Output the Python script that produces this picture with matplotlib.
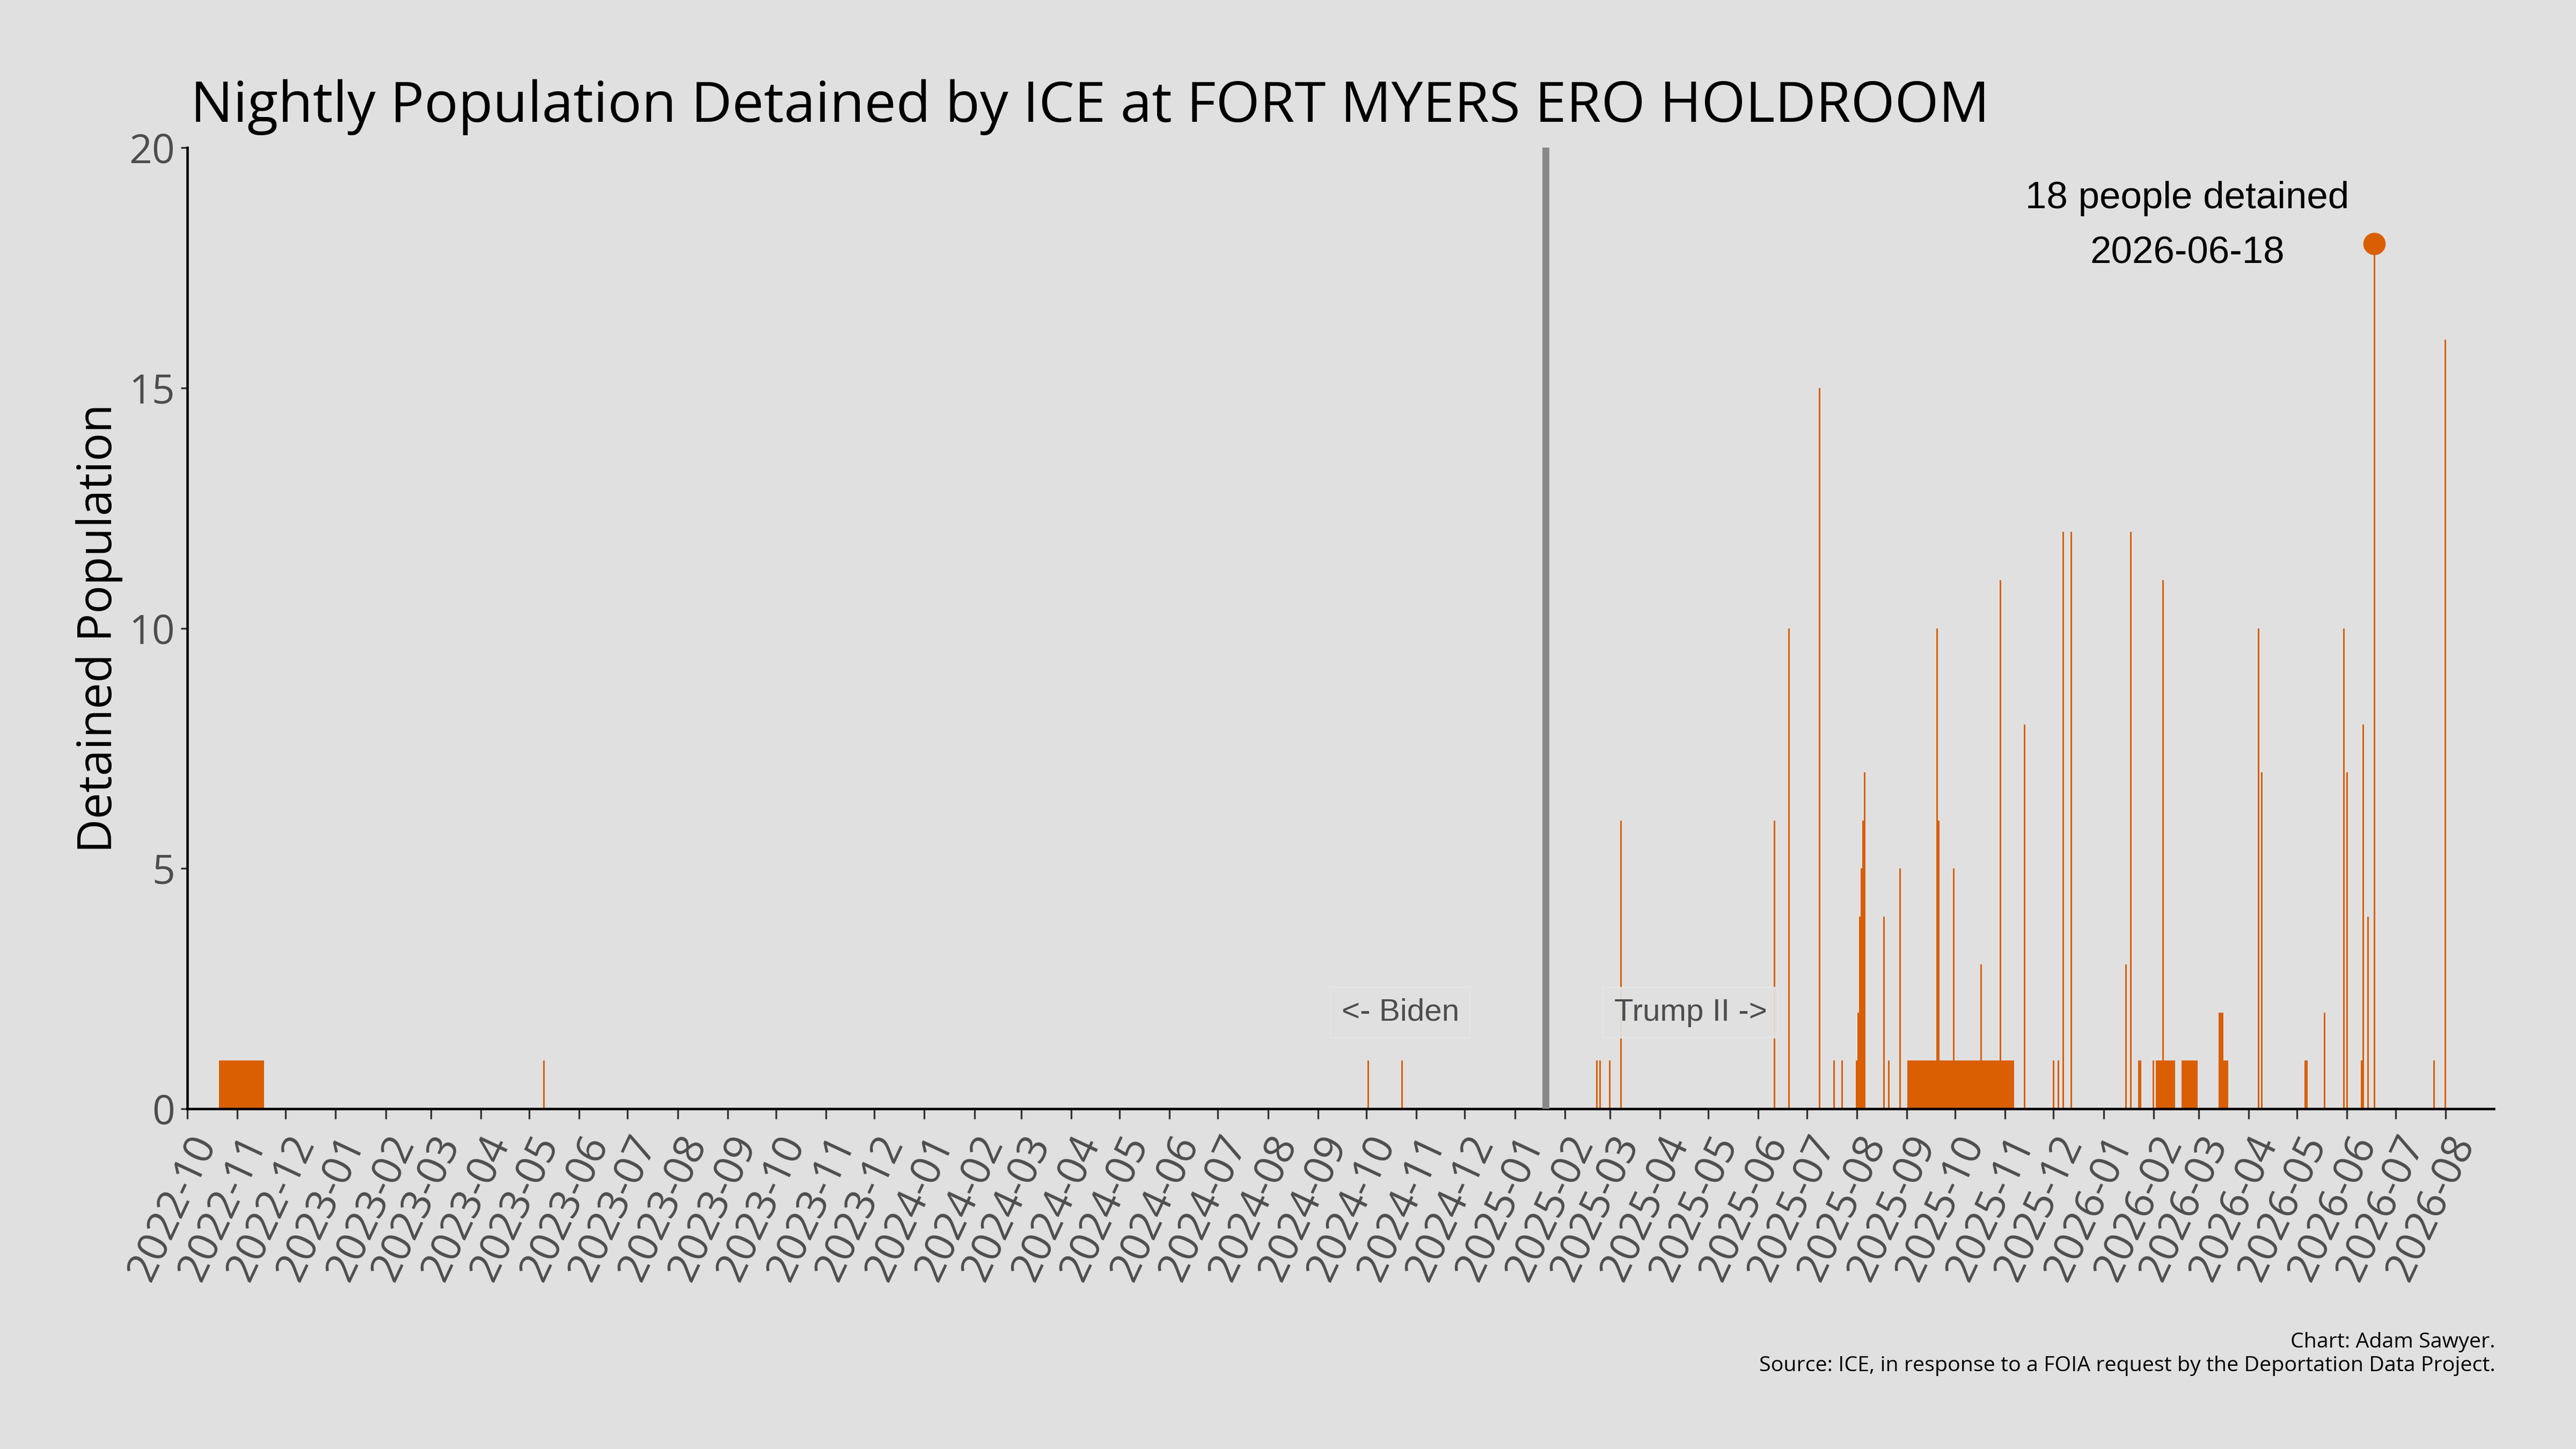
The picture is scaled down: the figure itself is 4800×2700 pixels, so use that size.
import matplotlib
matplotlib.use("Agg")
import matplotlib.pyplot as plt
import matplotlib.dates as mdates
import pandas as pd

# ---------------- data ----------------
TITLE = "Nightly Population Detained by ICE at FORT MYERS ERO HOLDROOM"
Y_LABEL = "Detained Population"
CAPTION = ("Chart: Adam Sawyer.\n"
           "Source: ICE, in response to a FOIA request by the Deportation Data Project.")
INAUGURATION = "2025-01-20"
ERA_LABELS = ["<- Biden", "Trump II ->"]
X_RANGE = ["2022-10-01", "2026-08-31"]
Y_TICKS = [0, 5, 10, 15, 20]

dates_2022 = ["2022-10-21", "2022-10-22", "2022-10-23", "2022-10-24", "2022-10-25",
              "2022-10-26", "2022-10-27", "2022-10-28", "2022-10-29", "2022-10-30",
              "2022-10-31", "2022-11-01", "2022-11-02", "2022-11-03", "2022-11-04",
              "2022-11-05", "2022-11-06", "2022-11-07", "2022-11-08", "2022-11-09",
              "2022-11-10", "2022-11-11", "2022-11-12", "2022-11-13", "2022-11-14",
              "2022-11-15", "2022-11-16", "2022-11-17"]
counts_2022 = [1, 1, 1, 1, 1, 1, 1, 1, 1, 1, 1, 1, 1, 1, 1, 1, 1, 1, 1, 1,
               1, 1, 1, 1, 1, 1, 1, 1]

dates_2023_2024 = ["2023-05-10", "2024-10-02", "2024-10-23"]
counts_2023_2024 = [1, 1, 1]

dates_2025 = ["2025-02-21", "2025-02-23", "2025-03-01", "2025-03-08",
              "2025-06-11", "2025-06-20", "2025-07-09", "2025-07-18", "2025-07-23",
              "2025-08-01", "2025-08-02", "2025-08-03", "2025-08-04", "2025-08-05",
              "2025-08-06", "2025-08-18", "2025-08-21", "2025-08-28",
              "2025-09-02", "2025-09-03", "2025-09-04", "2025-09-05", "2025-09-06",
              "2025-09-07", "2025-09-08", "2025-09-09", "2025-09-10", "2025-09-11",
              "2025-09-12", "2025-09-13", "2025-09-14", "2025-09-15", "2025-09-16",
              "2025-09-17", "2025-09-18", "2025-09-19", "2025-09-20", "2025-09-21",
              "2025-09-22", "2025-09-23", "2025-09-24", "2025-09-25", "2025-09-26",
              "2025-09-27", "2025-09-28", "2025-09-29", "2025-09-30",
              "2025-10-01", "2025-10-02", "2025-10-03", "2025-10-04", "2025-10-05",
              "2025-10-06", "2025-10-07", "2025-10-08", "2025-10-09", "2025-10-10",
              "2025-10-11", "2025-10-12", "2025-10-13", "2025-10-14", "2025-10-15",
              "2025-10-16", "2025-10-17", "2025-10-18", "2025-10-19", "2025-10-20",
              "2025-10-21", "2025-10-22", "2025-10-23", "2025-10-24", "2025-10-25",
              "2025-10-26", "2025-10-27", "2025-10-28", "2025-10-29", "2025-10-30",
              "2025-10-31",
              "2025-11-01", "2025-11-02", "2025-11-03", "2025-11-04", "2025-11-05",
              "2025-11-06", "2025-11-13",
              "2025-12-01", "2025-12-04", "2025-12-07", "2025-12-12"]
counts_2025 = [1, 1, 1, 6,
               6, 10, 15, 1, 1,
               1, 2, 4, 5, 6,
               7, 4, 1, 5,
               1, 1, 1, 1, 1,
               1, 1, 1, 1, 1,
               1, 1, 1, 1, 1,
               1, 1, 1, 10, 6,
               1, 1, 1, 1, 1,
               1, 1, 1, 5,
               1, 1, 1, 1, 1,
               1, 1, 1, 1, 1,
               1, 1, 1, 1, 1,
               1, 3, 1, 1, 1,
               1, 1, 1, 1, 1,
               1, 1, 1, 11, 1,
               1,
               1, 1, 1, 1, 1,
               1, 8,
               1, 1, 12, 12]

dates_2026 = ["2026-01-15", "2026-01-18", "2026-01-23", "2026-01-24",
              "2026-02-01", "2026-02-03", "2026-02-04", "2026-02-05", "2026-02-06",
              "2026-02-07", "2026-02-08", "2026-02-09", "2026-02-10", "2026-02-11",
              "2026-02-12", "2026-02-13", "2026-02-14",
              "2026-02-19", "2026-02-20", "2026-02-21", "2026-02-22", "2026-02-23",
              "2026-02-24", "2026-02-25", "2026-02-26", "2026-02-27", "2026-02-28",
              "2026-03-14", "2026-03-15", "2026-03-16", "2026-03-17", "2026-03-18",
              "2026-03-19",
              "2026-04-07", "2026-04-09", "2026-05-06", "2026-05-07", "2026-05-18",
              "2026-05-30", "2026-06-01", "2026-06-10", "2026-06-11", "2026-06-14",
              "2026-06-18", "2026-07-25", "2026-08-01"]
counts_2026 = [3, 12, 1, 1,
               1, 1, 1, 1, 1,
               11, 1, 1, 1, 1,
               1, 1, 1,
               1, 1, 1, 1, 1,
               1, 1, 1, 1, 1,
               2, 2, 2, 1, 1,
               1,
               10, 7, 1, 1, 2,
               10, 7, 1, 8, 4,
               18, 1, 16]

assert len(dates_2022) == len(counts_2022)
assert len(dates_2023_2024) == len(counts_2023_2024)
assert len(dates_2025) == len(counts_2025)
assert len(dates_2026) == len(counts_2026)

# ---------------- styling ----------------
BG = "#e0e0e0"
ORANGE = "#d95f02"
GREY_TXT = "#4d4d4d"
plt.rcParams["font.family"] = ["Open Sans", "DejaVu Sans"]
ARIAL = ["Liberation Sans", "DejaVu Sans"]

df = pd.DataFrame({
    "date": pd.to_datetime(dates_2022 + dates_2023_2024 + dates_2025 + dates_2026),
    "count": counts_2022 + counts_2023_2024 + counts_2025 + counts_2026,
})

fig = plt.figure(figsize=(16, 9), dpi=300, facecolor=BG)
ax = fig.add_axes([0.0727, 0.2348, 0.8954, 0.6633], facecolor=BG)

ax.bar(df["date"], df["count"], width=1.0, color=ORANGE, linewidth=0,
       align="center", zorder=2)

inaug = pd.Timestamp(INAUGURATION)
ax.axvline(inaug, color="#888888", linewidth=3.1, zorder=3)

box = dict(boxstyle="square,pad=0.35", facecolor="#e1e1e1", edgecolor="#e6e6e6",
           linewidth=0.5, alpha=0.93)
ax.text(inaug - pd.Timedelta(days=90), 2, ERA_LABELS[0], ha="center", va="center",
        fontsize=14, color=GREY_TXT, family=ARIAL, bbox=box, zorder=4)
ax.text(inaug + pd.Timedelta(days=90), 2, ERA_LABELS[1], ha="center", va="center",
        fontsize=14, color=GREY_TXT, family=ARIAL, bbox=box, zorder=4)

# peak highlight
peak = df.loc[df["count"].idxmax()]
ax.plot([peak["date"]], [peak["count"]], "o", markersize=10, color=ORANGE,
        markeredgewidth=0, zorder=5, clip_on=False)
ann_x = peak["date"] - pd.Timedelta(days=116)
ax.text(ann_x, peak["count"] + 0.74, f"{int(peak['count'])} people detained",
        ha="center", va="baseline", fontsize=17, color="black", family=ARIAL)
ax.text(ann_x, peak["count"] - 0.41, peak["date"].strftime("%Y-%m-%d"),
        ha="center", va="baseline", fontsize=17, color="black", family=ARIAL)

ax.set_xlim(pd.Timestamp(X_RANGE[0]), pd.Timestamp(X_RANGE[1]))
ax.set_ylim(0, 20)
ax.set_yticks(Y_TICKS)
ax.xaxis.set_major_locator(mdates.MonthLocator())
ax.xaxis.set_major_formatter(mdates.DateFormatter("%Y-%m"))

for s in ["top", "right"]:
    ax.spines[s].set_visible(False)
for s in ["left", "bottom"]:
    ax.spines[s].set_color("black")
    ax.spines[s].set_linewidth(1.1)

ax.tick_params(axis="both", colors="#333333", width=0.8, labelcolor=GREY_TXT)
ax.tick_params(axis="y", labelsize=18, pad=2.5, length=3)
ax.tick_params(axis="x", labelsize=18.5, pad=4.5, length=4.5)
for lab in ax.get_xticklabels():
    lab.set_rotation(65)
    lab.set_ha("right")
    lab.set_va("top")
    lab.set_rotation_mode("anchor")

fig.text(0.0385, 0.5665, Y_LABEL, rotation=90, ha="center", va="center",
         fontsize=21, color="black")

title = fig.text(0.074, 1 - 226.7 / 2700, TITLE, ha="left", va="baseline",
                 fontsize=26, color="black")
cap = fig.text(4650 / 4800, 1 - 2555 / 2700, CAPTION, ha="right", va="baseline",
               fontsize=10, color="black", linespacing=1.2)

# fit widths to the reference
fig.canvas.draw()
r = fig.canvas.get_renderer()
w = title.get_window_extent(r).width
title.set_fontsize(title.get_fontsize() * 3355 / w)
w = cap.get_window_extent(r).width
cap.set_fontsize(cap.get_fontsize() * 1372 / w)

fig.savefig("out.png", dpi=300, facecolor=BG)
